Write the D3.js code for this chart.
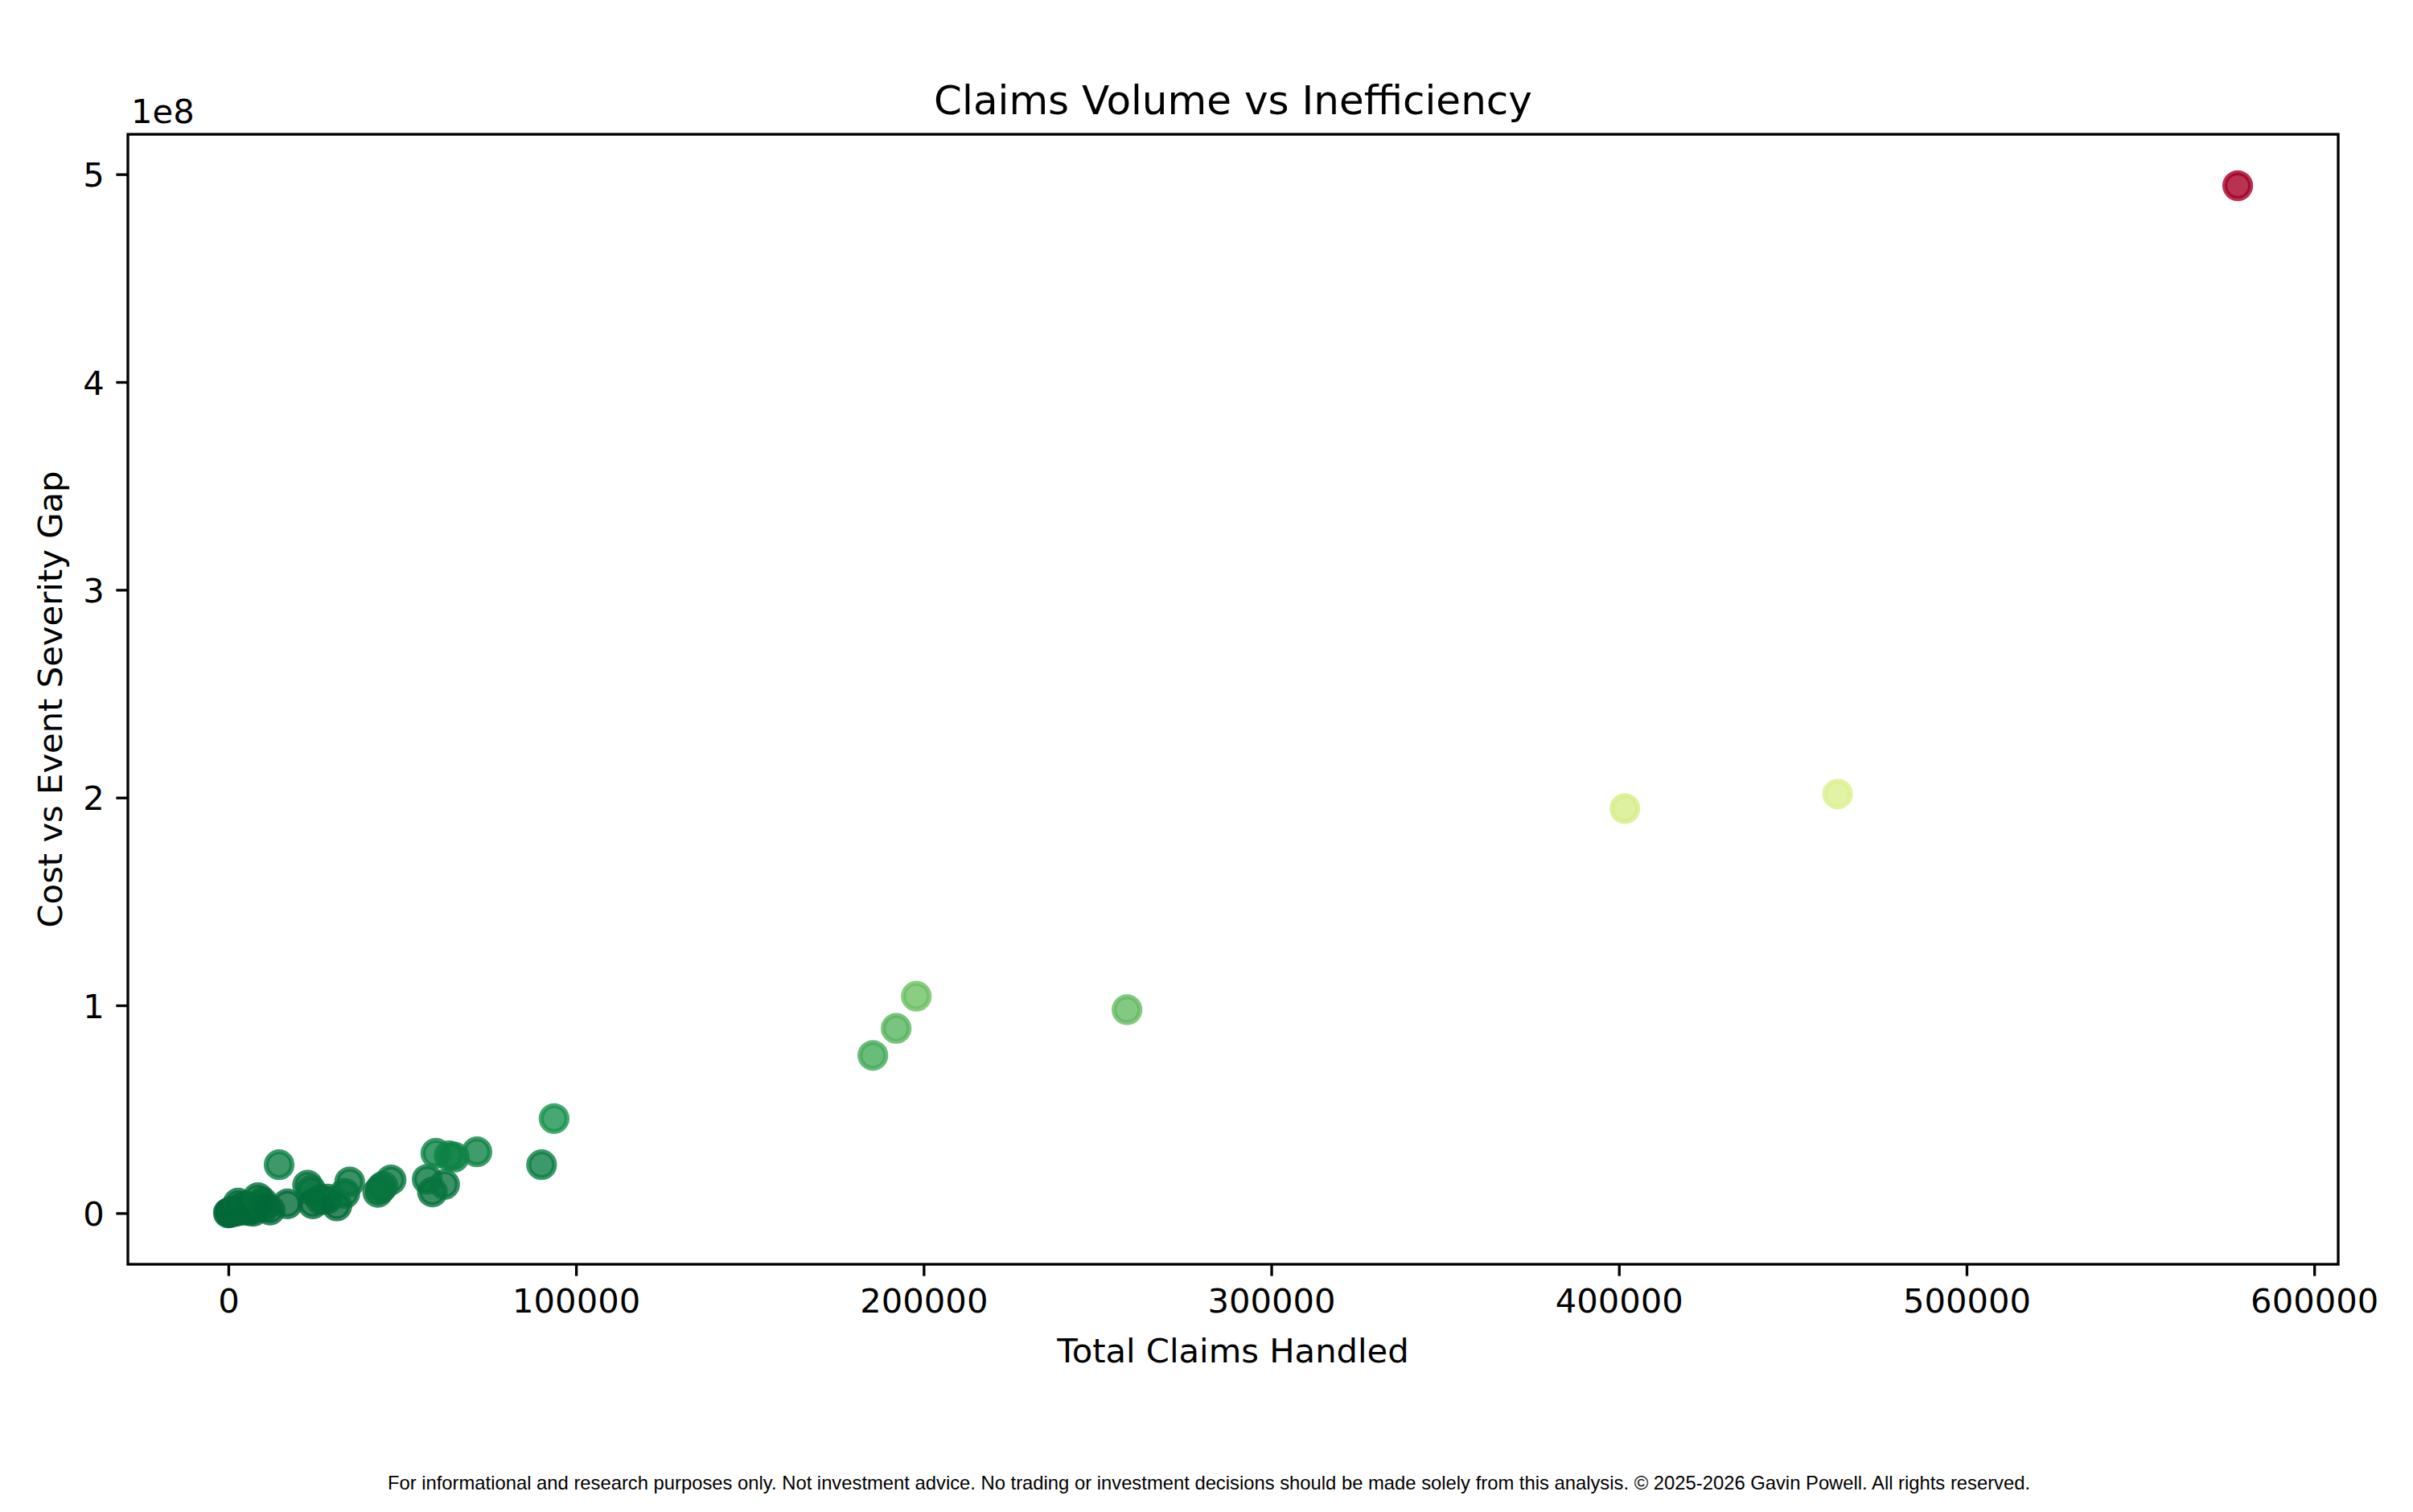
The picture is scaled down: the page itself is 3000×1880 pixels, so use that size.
<!DOCTYPE html>
<html>
<head>
<meta charset="utf-8">
<script src="https://cdn.jsdelivr.net/npm/d3@7"></script>
<style>
  html, body { margin: 0; padding: 0; background: #ffffff; }
  svg { display: block; }
</style>
</head>
<body>
<svg id="chart" width="3000" height="1880"></svg>
<script>
// ---- data ----
const totalClaims = [
  0, 300, 800, 1500, 2200, 2800, 3500, 4200, 5000, 5800, 6500, 7200, 8500, 9800, 10500, 12000, 14600,
  17000, 22800, 23800, 24300, 26500, 28500, 31200, 33500, 34900, 43000, 43800, 44500, 46800,
  57200, 58700, 59700, 62200, 63500, 65000, 71500, 90100, 93700,
  185400, 192100, 197900, 258500, 401700, 462900, 578000
];
const costGap = [
  0.1e6, 0.3e6, 0.6e6, 1.0e6, 0.8e6, 4.8e6, 2.5e6, 1.5e6, 3.5e6, 1.2e6, 2.8e6, 0.9e6, 7.5e6, 5.5e6, 3.0e6, 1.5e6, 23.3e6,
  4.5e6, 13.5e6, 11.0e6, 4.5e6, 6.5e6, 6.8e6, 3.5e6, 9.5e6, 15.0e6, 10.0e6, 11.8e6, 13.0e6, 16.0e6,
  16.3e6, 10.2e6, 28.8e6, 13.8e6, 27.6e6, 27.0e6, 29.5e6, 23.3e6, 45.5e6,
  75.9e6, 88.9e6, 104.4e6, 97.9e6, 194.7e6, 201.7e6, 494.5e6
];
const xTickValues = [0, 100000, 200000, 300000, 400000, 500000, 600000];
const yTickValues = [0, 1e8, 2e8, 3e8, 4e8, 5e8];
const yTickLabels = ["0", "1", "2", "3", "4", "5"];
const titleText = "Claims Volume vs Inefficiency";
const xLabelText = "Total Claims Handled";
const yLabelText = "Cost vs Event Severity Gap";
const offsetText = "1e8";
const footerText = "For informational and research purposes only. Not investment advice. No trading or investment decisions should be made solely from this analysis. \u00A9 2025-2026 Gavin Powell. All rights reserved.";
const rdylgn = ["#a50026","#d73027","#f46d43","#fdae61","#fee08b","#ffffbf","#d9ef8b","#a6d96a","#66bd63","#1a9850","#006837"];

// ---- layout ----
const plot = { left: 159, right: 2907, top: 167, bottom: 1572 };
const mainFont = "DejaVu Sans, Verdana, sans-serif";
const tickFont = 41.7;
const tickLen = 14.6;
const tickPad = 14.6;
const spineW = 3.33;

const svg = d3.select("#chart");
svg.append("rect").attr("width", 3000).attr("height", 1880).attr("fill", "#fff");

const points = totalClaims.map((x, i) => ({ x, y: costGap[i] }));

function padded(ext) {
  const r = ext[1] - ext[0];
  return [ext[0] - 0.05 * r, ext[1] + 0.05 * r];
}
const x = d3.scaleLinear().domain(padded(d3.extent(totalClaims))).range([plot.left, plot.right]);
const y = d3.scaleLinear().domain(padded(d3.extent(costGap))).range([plot.bottom, plot.top]);

// RdYlGn_r colormap (matplotlib linear segmented) normalised on the gap values
const cmapStops = rdylgn.slice().reverse();
const cmap = d3.scaleLinear()
  .domain(cmapStops.map((_, i) => i / (cmapStops.length - 1)))
  .range(cmapStops)
  .interpolate(d3.interpolateRgb)
  .clamp(true);
const cNorm = d3.scaleLinear().domain(d3.extent(costGap)).range([0, 1]);

// ---- points ----
const clipId = "plotclip";
svg.append("clipPath").attr("id", clipId).append("rect")
  .attr("x", plot.left).attr("y", plot.top)
  .attr("width", plot.right - plot.left).attr("height", plot.bottom - plot.top);

svg.append("g").attr("clip-path", `url(#${clipId})`)
  .selectAll("circle").data(points).join("circle")
  .attr("cx", d => x(d.x))
  .attr("cy", d => y(d.y))
  .attr("r", 16)
  .attr("fill", d => cmap(cNorm(d.y)))
  .attr("fill-opacity", 0.8)
  .attr("stroke", d => cmap(cNorm(d.y)))
  .attr("stroke-opacity", 0.8)
  .attr("stroke-width", 6.25);

// ---- axes ----
const xAxis = d3.axisBottom(x).tickValues(xTickValues).tickFormat(d3.format("d"))
  .tickSizeInner(tickLen).tickSizeOuter(0).tickPadding(tickPad);
const gx = svg.append("g").attr("transform", `translate(0,${plot.bottom})`).call(xAxis);
gx.select(".domain").remove();
gx.selectAll(".tick line").attr("stroke", "#000").attr("stroke-width", spineW);
gx.selectAll(".tick text")
  .attr("font-family", mainFont).attr("font-size", tickFont).attr("fill", "#000")
  .attr("dy", null).attr("y", tickLen + tickPad + 31);

const yAxis = d3.axisLeft(y).tickValues(yTickValues).tickFormat((d, i) => yTickLabels[i])
  .tickSizeInner(tickLen).tickSizeOuter(0).tickPadding(tickPad);
const gy = svg.append("g").attr("transform", `translate(${plot.left},0)`).call(yAxis);
gy.select(".domain").remove();
gy.selectAll(".tick line").attr("stroke", "#000").attr("stroke-width", spineW);
gy.selectAll(".tick text")
  .attr("font-family", mainFont).attr("font-size", tickFont).attr("fill", "#000")
  .attr("dy", null).attr("y", 15).attr("x", -(tickLen + tickPad));

// frame (spines)
svg.append("rect")
  .attr("x", plot.left).attr("y", plot.top)
  .attr("width", plot.right - plot.left).attr("height", plot.bottom - plot.top)
  .attr("fill", "none").attr("stroke", "#000").attr("stroke-width", spineW);

// ---- texts ----
svg.append("text")
  .attr("x", (plot.left + plot.right) / 2).attr("y", 142)
  .attr("text-anchor", "middle")
  .attr("font-family", mainFont).attr("font-size", 50).attr("fill", "#000")
  .text(titleText);

svg.append("text")
  .attr("x", plot.left + 4).attr("y", 153)
  .attr("font-family", mainFont).attr("font-size", tickFont).attr("fill", "#000")
  .text(offsetText);

svg.append("text")
  .attr("x", (plot.left + plot.right) / 2).attr("y", 1694)
  .attr("text-anchor", "middle")
  .attr("font-family", mainFont).attr("font-size", tickFont).attr("fill", "#000")
  .text(xLabelText);

svg.append("text")
  .attr("transform", `translate(77,${(plot.top + plot.bottom) / 2}) rotate(-90)`)
  .attr("text-anchor", "middle")
  .attr("font-family", mainFont).attr("font-size", tickFont).attr("fill", "#000")
  .text(yLabelText);

svg.append("text")
  .attr("x", 1503).attr("y", 1852)
  .attr("text-anchor", "middle")
  .attr("font-family", "Liberation Sans, Arial, sans-serif").attr("font-size", 23.8).attr("fill", "#000")
  .text(footerText);
</script>
</body>
</html>
